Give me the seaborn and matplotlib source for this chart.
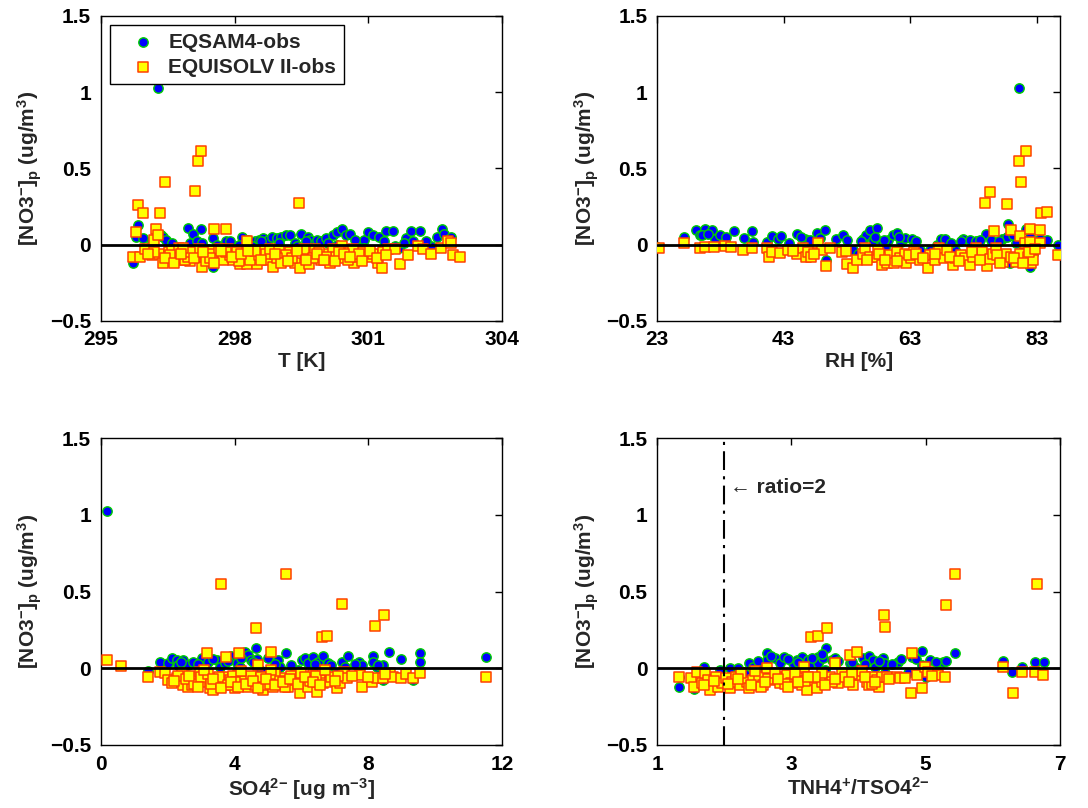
import numpy as np
import pandas as pd
import matplotlib
matplotlib.use("Agg")
import matplotlib.pyplot as plt
import seaborn as sns

# ---------------- data ----------------
# Panel 1: temperature
t_eqsam_x = [295.72, 295.80, 295.84, 295.94, 296.05, 296.15, 296.28, 296.35, 296.40, 296.46, 296.55, 296.70,
             296.85, 296.95, 297.00, 297.08, 297.15, 297.25, 297.27, 297.40, 297.51, 297.52, 297.60, 297.70,
             297.82, 297.90, 298.00, 298.16, 298.25, 298.31, 298.45, 298.55, 298.65, 298.75, 298.85, 298.95,
             299.05, 299.15, 299.25, 299.35, 299.50, 299.65, 299.70, 299.85, 299.95, 300.05, 300.20, 300.30,
             300.40, 300.50, 300.60, 300.75, 300.90, 301.00, 301.10, 301.25, 301.40, 301.55, 301.70, 301.85,
             301.95, 302.00, 302.15, 302.45, 302.55, 302.65, 302.70, 302.85, 296.60, 297.00, 298.40, 298.90,
             299.40, 300.30, 300.90, 301.60, 302.40, 298.10, 298.60, 299.00, 299.60, 300.10, 300.70, 301.35,
             301.80, 302.30, 297.30, 297.90]
t_eqsam_y = [-0.12, 0.05, 0.13, 0.04, -0.02, 0.02, 1.03, 0.06, 0.05, 0.03, -0.03, -0.05,
             -0.06, 0.11, 0.01, 0.07, 0.02, 0.10, 0.01, -0.03, -0.15, 0.04, 0.00, -0.02,
             0.02, 0.02, -0.03, 0.05, 0.01, 0.03, 0.02, 0.03, 0.04, 0.03, 0.05, 0.04,
             0.05, 0.06, 0.06, 0.01, 0.07, 0.05, 0.03, 0.03, 0.02, 0.04, 0.06, 0.08,
             0.10, 0.06, 0.07, 0.01, 0.03, 0.08, 0.06, 0.05, 0.09, 0.09, -0.02, 0.04,
             0.09, 0.02, 0.09, -0.02, 0.05, 0.10, 0.07, 0.05, 0.01, -0.08, -0.01, -0.02,
             -0.01, 0.00, -0.02, -0.01, -0.01, 0.00, 0.02, 0.01, 0.02, 0.01, 0.03, 0.02,
             0.01, 0.02, -0.06, -0.04]
t_equi_x = [295.72, 295.79, 295.84, 295.94, 295.88, 295.99, 296.14, 296.19, 296.25, 296.28, 296.34, 296.31,
            296.40, 296.45, 296.52, 296.63, 296.81, 296.93, 297.00, 297.11, 297.19, 297.25, 297.26, 297.34,
            297.45, 297.54, 297.60, 297.71, 297.80, 297.86, 297.97, 298.12, 298.27, 298.27, 298.42, 298.51,
            298.64, 298.76, 298.87, 298.98, 299.09, 299.24, 299.35, 299.45, 299.48, 299.61, 299.67, 299.80,
            299.95, 300.10, 300.21, 300.28, 300.40, 300.47, 300.58, 300.69, 300.73, 300.88, 301.00, 301.11,
            301.22, 301.30, 301.34, 301.45, 301.60, 301.71, 301.89, 302.12, 302.23, 302.41, 302.64, 302.79,
            302.86, 302.90, 303.05, 296.60, 296.70, 296.75, 296.90, 297.05, 297.20, 297.35, 297.50, 297.65,
            297.75, 297.90, 298.05, 298.20, 298.35, 298.55, 298.70, 298.80, 299.00, 299.15, 299.30, 299.55,
            299.75, 299.90, 300.05, 300.15, 300.35, 300.55, 300.65, 300.80, 296.55, 296.95, 297.80, 298.95,
            299.05, 298.45, 298.10, 297.45, 297.00, 296.85, 296.45, 296.65, 296.80, 297.10, 297.30, 297.55,
            297.70, 297.95, 298.15, 298.30, 298.60, 298.90, 299.20, 299.40, 299.60, 299.85, 300.00, 300.25,
            300.45, 300.60, 300.85, 301.05, 301.20, 301.40, 296.20, 296.05]
t_equi_y = [-0.08, 0.08, 0.26, 0.21, -0.08, -0.03, -0.07, 0.03, 0.10, 0.06, 0.21, -0.06,
            -0.12, 0.41, -0.05, -0.08, -0.10, -0.04, -0.11, 0.35, 0.55, 0.615, -0.146, -0.08,
            -0.04, 0.10, -0.09, -0.06, 0.10, -0.03, -0.10, -0.13, -0.13, 0.02, -0.06, -0.13,
            -0.04, -0.10, -0.146, -0.07, -0.10, -0.05, -0.12, 0.274, -0.156, -0.07, -0.13, -0.03,
            -0.10, -0.06, -0.03, -0.08, -0.01, -0.09, -0.05, -0.12, -0.08, -0.05, -0.08, -0.06,
            -0.12, -0.156, -0.05, -0.03, -0.03, -0.13, -0.07, -0.01, -0.03, -0.06, -0.02, 0.02,
            0.01, -0.07, -0.08, -0.04, -0.09, -0.02, -0.10, -0.06, -0.03, -0.11, -0.06, -0.03,
            -0.10, -0.07, -0.05, -0.08, -0.10, -0.07, -0.06, -0.03, -0.04, -0.07, -0.09, -0.03,
            -0.09, -0.05, -0.08, -0.12, -0.05, -0.10, -0.03, -0.06, -0.07, -0.08, -0.05, -0.09,
            -0.12, -0.04, -0.11, -0.09, -0.05, -0.02, -0.09, -0.12, -0.06, -0.09, -0.05, -0.12,
            -0.04, -0.08, -0.06, -0.04, -0.10, -0.06, -0.11, -0.04, -0.10, -0.06, -0.10, -0.11,
            -0.06, -0.08, -0.11, -0.04, -0.09, -0.07, -0.05, -0.06]

# Panel 2: relative humidity
rh_eqsam_x = [23.0, 27.2, 29.2, 29.7, 30.2, 30.6, 31.6, 32.1, 32.9, 33.9, 35.2, 36.7, 38.0, 38.2, 40.3, 41.2,
              42.1, 42.5, 43.9, 45.1, 46.4, 47.1, 48.2, 48.7, 49.5, 49.7, 51.3, 52.4, 53.0, 54.0, 54.8, 55.6,
              56.0, 56.6, 57.2, 57.8, 58.5, 59.0, 59.5, 60.3, 60.9, 61.6, 62.2, 63.3, 63.7, 64.5, 66.1, 67.2,
              67.9, 68.5, 70.1, 71.4, 72.4, 73.4, 75.0, 75.8, 76.9, 77.5, 78.5, 78.4, 78.8, 80.2, 79.8, 80.9,
              81.4, 81.9, 82.5, 83.5, 84.6, 86.4, 55.2, 57.5, 58.8, 61.2, 64.0, 69.5, 71.0, 74.0, 77.0, 79.2,
              81.0, 82.0, 30.0, 31.0, 45.8]
rh_eqsam_y = [-0.015, 0.05, 0.093, 0.061, 0.072, 0.104, 0.098, 0.033, 0.061, 0.05, 0.087, 0.043, 0.087, 0.017,
              0.017, 0.054, 0.037, 0.054, 0.011, 0.072, 0.039, 0.028, 0.076, 0.046, 0.093, -0.102, 0.039, 0.061,
              0.028, -0.033, -0.063, 0.033, 0.061, 0.093, 0.028, 0.109, 0.011, -0.015, 0.028, 0.061, 0.078,
              0.017, 0.046, 0.039, 0.011, -0.037, -0.037, -0.004, 0.039, 0.039, -0.037, 0.039, 0.028, 0.024,
              0.072, 0.028, -0.08, 0.039, 0.133, 0.05, -0.124, 1.028, 0.007, -0.037, 0.104, -0.146, -0.059,
              0.039, 0.028, -0.004, 0.02, 0.05, 0.03, 0.05, 0.02, 0.01, 0.02, 0.03, 0.02, 0.06,
              0.02, 0.05, 0.06, 0.07, 0.05]
rh_equi_x = [23.3, 27.2, 29.7, 30.5, 31.9, 33.7, 34.7, 36.5, 38.0, 40.4, 40.6, 41.2, 42.4, 43.7, 45.1, 46.1,
             46.5, 46.9, 47.3, 48.4, 49.1, 49.7, 50.4, 52.2, 52.9, 53.0, 53.9, 54.6, 55.6, 55.8, 56.6, 57.8,
             57.9, 58.5, 59.3, 59.8, 60.4, 60.9, 61.4, 62.2, 62.4, 63.2, 63.6, 64.5, 65.9, 66.1, 66.9, 67.6,
             68.4, 68.8, 69.8, 70.1, 71.1, 71.7, 72.4, 73.0, 73.5, 74.3, 74.8, 75.1, 75.6, 75.7, 76.1, 76.2,
             76.6, 77.7, 78.2, 78.4, 79.0, 79.0, 79.8, 80.2, 80.4, 80.5, 80.4, 81.2, 81.3, 81.6, 81.9, 82.0,
             82.1, 82.5, 83.5, 83.7, 84.7, 83.5, 86.4, 56.2, 58.0, 59.0, 61.0, 62.8, 64.0, 65.0, 67.0, 69.3,
             70.8, 72.8, 74.0, 76.8, 77.2, 79.5, 80.8, 81.8, 82.8, 44.5, 47.8]
rh_equi_y = [-0.02, 0.007, -0.02, -0.015, -0.015, -0.009, -0.015, -0.037, -0.02, -0.02, -0.08, -0.048,
             -0.054, -0.033, -0.063, -0.026, -0.08, -0.048, -0.08, 0.007, -0.037, -0.139, -0.02, -0.048,
             -0.041, -0.13, -0.157, -0.102, -0.059, -0.026, -0.085, -0.085, -0.033, -0.135, -0.124, -0.07,
             -0.124, -0.048, -0.091, -0.059, -0.124, -0.091, -0.048, -0.102, -0.157, -0.07, -0.102, -0.026,
             -0.091, -0.037, -0.135, -0.091, -0.07, -0.091, -0.135, -0.08, -0.026, -0.048, 0.274, -0.139,
             -0.098, 0.348, -0.059, 0.089, -0.026, -0.113, -0.059, 0.263, 0.093, -0.08, -0.113, 0.55,
             0.054, 0.413, -0.059, 0.007, 0.615, -0.08, 0.104, 0.017, -0.124, -0.102, 0.098, 0.209,
             0.213, 0.007, -0.07, -0.10, -0.06, -0.10, -0.11, -0.07, -0.06, -0.09, -0.06, -0.08,
             -0.11, -0.05, -0.10, -0.07, -0.12, -0.09, -0.12, -0.05, -0.03, -0.04, -0.06]

# Panel 3: sulfate
so4_eqsam_x = [0.18, 1.42, 1.77, 2.02, 2.12, 2.27, 2.32, 2.47, 2.62, 2.77, 3.02, 3.09, 3.22, 3.47, 3.57, 3.72,
               3.91, 4.06, 4.16, 4.31, 4.41, 4.48, 4.64, 4.66, 4.76, 4.86, 5.01, 5.16, 5.31, 5.36, 5.53, 5.76,
               5.91, 6.01, 6.11, 6.16, 6.21, 6.36, 6.51, 6.66, 6.80, 7.05, 7.20, 7.30, 7.38, 7.73, 7.80, 8.13,
               8.15, 8.25, 8.45, 8.45, 8.62, 8.99, 9.34, 9.56, 9.56, 11.53, 2.40, 2.90, 3.35, 3.80, 4.20, 4.55,
               5.20, 5.70, 6.40, 6.90, 7.60, 8.30]
so4_eqsam_y = [1.028, -0.02, 0.043, 0.033, 0.065, 0.054, 0.022, 0.054, 0.022, 0.043, 0.065, 0.011, 0.043, 0.054,
               0.011, 0.033, 0.08, 0.033, 0.011, 0.109, 0.087, 0.054, 0.13, 0.059, -0.011, -0.022, 0.065,
               -0.054, 0.054, 0.011, 0.098, -0.076, -0.011, 0.054, 0.065, -0.054, 0.033, 0.076, 0.043, 0.08,
               0.033, -0.033, 0.043, 0.011, 0.08, 0.043, 0.022, 0.08, 0.043, 0.011, 0.022, -0.076, 0.109,
               0.059, -0.076, 0.098, 0.043, 0.072, 0.04, 0.03, 0.06, 0.05, 0.07, 0.04,
               0.03, 0.02, 0.03, 0.02, 0.03, 0.02]
so4_equi_x = [0.18, 0.60, 1.42, 1.77, 1.92, 2.02, 2.12, 2.27, 2.42, 2.47, 2.62, 2.72, 2.87, 2.97, 3.17, 3.07,
              3.27, 3.37, 3.47, 3.61, 3.67, 3.72, 3.75, 3.86, 4.01, 4.11, 4.14, 4.16, 4.26, 4.41, 4.46, 4.63,
              4.71, 4.74, 4.86, 4.91, 5.01, 5.08, 5.16, 5.26, 5.43, 5.53, 5.61, 5.81, 5.86, 5.96, 6.06, 6.21,
              6.36, 6.46, 6.56, 6.61, 6.66, 6.78, 6.85, 7.07, 7.15, 7.22, 7.27, 7.37, 7.75, 7.80, 8.10, 8.20,
              8.25, 8.45, 8.47, 8.65, 8.75, 8.99, 9.14, 9.34, 9.56, 11.53, 2.30, 2.55, 2.80, 3.00, 3.20, 3.30,
              3.55, 3.80, 3.95, 4.05, 4.30, 4.50, 4.60, 4.80, 5.05, 5.20, 5.35, 5.50, 5.70, 6.00, 6.25, 6.45,
              6.90, 7.10, 3.10, 4.20, 5.10, 6.70, 2.20, 2.65, 2.90, 3.35, 3.60, 3.90, 4.10, 4.35, 4.55, 4.70,
              4.95, 5.20, 5.45, 5.65, 5.90, 6.10, 6.35, 6.55, 7.00, 7.50, 8.00, 8.50]
so4_equi_y = [0.054, 0.017, -0.054, -0.022, -0.033, -0.076, -0.093, -0.065, -0.033, -0.109, -0.12, -0.109,
              -0.054, -0.022, 0.098, -0.087, -0.13, -0.141, -0.076, 0.55, -0.054, -0.109, 0.076, -0.076,
              -0.13, -0.043, 0.098, -0.098, -0.065, -0.12, -0.076, 0.261, 0.022, -0.087, -0.141, -0.109,
              -0.054, 0.109, -0.12, -0.076, -0.065, 0.613, -0.12, -0.076, -0.043, -0.159, -0.076, -0.124,
              -0.043, -0.152, -0.076, 0.202, -0.098, 0.211, -0.087, -0.13, -0.093, 0.417, -0.022, -0.065,
              -0.043, -0.12, -0.087, 0.276, -0.065, -0.065, 0.348, -0.033, -0.054, -0.065, -0.037, -0.065,
              -0.033, -0.054, -0.05, -0.07, -0.10, -0.06, -0.04, -0.10, -0.06, -0.11, -0.05, -0.09, -0.08,
              -0.05, -0.11, -0.06, -0.10, -0.04, -0.08, -0.12, -0.05, -0.03, -0.08, -0.05, -0.06, -0.05,
              -0.01, -0.02, -0.01, -0.01, -0.08, -0.05, -0.12, -0.07, -0.13, -0.09, -0.12, -0.10, -0.08,
              -0.13, -0.07, -0.11, -0.09, -0.07, -0.10, -0.06, -0.09, -0.11, -0.08, -0.05, -0.06, -0.04]

# Panel 4: TNH4+/TSO4 2- ratio
rat_eqsam_x = [1.33, 1.33, 1.54, 1.69, 1.74, 1.93, 2.08, 2.21, 2.36, 2.42, 2.51, 2.63, 2.63, 2.75, 2.83, 2.89,
               3.03, 3.08, 3.15, 3.18, 3.25, 3.30, 3.39, 3.40, 3.47, 3.52, 3.60, 3.65, 3.77, 3.87, 3.95, 4.07,
               4.15, 4.22, 4.25, 4.37, 4.38, 4.59, 4.63, 4.74, 4.79, 4.94, 4.94, 5.01, 5.06, 5.19, 5.26, 5.44,
               6.15, 6.28, 6.43, 6.63, 6.76, 1.60, 1.85, 2.00, 2.15, 2.30, 2.60, 3.00, 3.50, 4.00, 4.40, 2.50,
               2.70, 2.95, 3.10, 3.30, 3.45, 3.70, 3.90, 4.10, 4.30, 4.50, 4.85, 5.15, 5.30]
rat_eqsam_y = [-0.12, -0.054, -0.137, 0.011, -0.065, -0.011, 0.0, 0.0, 0.033, 0.011, 0.033, 0.098, 0.054,
               0.065, 0.033, 0.076, 0.033, 0.054, 0.076, 0.011, 0.054, 0.033, 0.076, 0.033, 0.065, 0.13,
               0.054, 0.065, -0.043, 0.033, 0.011, 0.065, 0.08, 0.054, 0.011, 0.065, 0.033, 0.043, 0.059,
               -0.033, 0.076, 0.115, 0.022, -0.054, 0.054, 0.033, 0.043, 0.098, 0.048, -0.022, 0.011,
               0.043, 0.043, -0.10, -0.12, -0.09, -0.06, -0.04, -0.02, -0.03, -0.01, -0.02, -0.03, 0.05,
               0.08, 0.06, 0.04, 0.07, 0.09, 0.05, 0.04, 0.03, 0.05, 0.03, 0.06, 0.04, 0.05]
rat_equi_x = [1.33, 1.51, 1.55, 1.59, 1.66, 1.71, 1.76, 1.79, 1.88, 1.91, 1.96, 2.03, 2.08, 2.11, 2.18, 2.23,
              2.33, 2.36, 2.43, 2.51, 2.58, 2.63, 2.70, 2.78, 2.83, 2.93, 3.00, 3.08, 3.15, 3.18, 3.23, 3.29,
              3.30, 3.38, 3.40, 3.45, 3.53, 3.57, 3.65, 3.70, 3.75, 3.87, 3.92, 3.98, 4.02, 4.12, 4.15, 4.20,
              4.27, 4.30, 4.35, 4.38, 4.39, 4.42, 4.57, 4.62, 4.69, 4.78, 4.80, 4.87, 4.94, 4.99, 5.04, 5.19,
              5.29, 5.30, 5.44, 6.15, 6.30, 6.43, 6.63, 6.66, 6.75, 2.45, 2.65, 2.90, 3.05, 3.20, 3.45, 3.60,
              3.80, 4.05, 4.20, 2.25, 2.55, 2.75, 3.35, 3.90, 1.70, 1.85, 2.05, 2.20, 2.40, 2.60, 2.80, 2.95,
              3.10, 3.25, 3.50, 3.65, 3.85, 4.10, 4.25, 4.45, 5.10]
rat_equi_y = [-0.059, -0.065, -0.12, -0.022, -0.098, -0.028, -0.076, -0.141, -0.054, -0.12, -0.093, -0.065,
              -0.13, -0.087, -0.054, -0.109, -0.087, -0.13, -0.076, -0.054, -0.109, 0.0, -0.076, -0.054,
              -0.098, -0.043, -0.098, -0.065, -0.109, 0.011, -0.141, 0.202, -0.076, -0.13, 0.211, -0.087,
              0.261, -0.054, 0.033, -0.098, -0.033, 0.087, -0.109, 0.109, -0.043, -0.087, -0.109, -0.054,
              -0.076, -0.12, -0.054, 0.348, 0.272, -0.054, -0.054, -0.065, -0.065, -0.159, 0.098, -0.043,
              -0.13, 0.011, -0.022, -0.043, -0.054, 0.413, 0.613, 0.011, -0.159, -0.022, -0.022, 0.55,
              -0.043, -0.02, -0.07, -0.10, -0.04, -0.08, -0.03, -0.09, -0.06, -0.02, -0.10, -0.03, -0.12,
              -0.03, -0.06, -0.04, -0.11, -0.08, -0.10, -0.07, -0.11, -0.09, -0.07, -0.12, -0.09, -0.06,
              -0.11, -0.07, -0.09, -0.06, -0.09, -0.07, -0.05]

ratio_line = 2.0
series_names = ["EQSAM4-obs", "EQUISOLV II-obs"]

# ---------------- style ----------------
sns.set_theme(style="white")
plt.rcParams["font.family"] = ["Liberation Sans", "DejaVu Sans"]
plt.rcParams["font.weight"] = "bold"
plt.rcParams["axes.labelweight"] = "bold"
plt.rcParams["mathtext.fontset"] = "custom"
plt.rcParams["mathtext.rm"] = "Liberation Sans:bold"
plt.rcParams["mathtext.bf"] = "Liberation Sans:bold"
plt.rcParams["mathtext.it"] = "Liberation Sans:bold"
plt.rcParams["mathtext.sf"] = "Liberation Sans:bold"
plt.rcParams["mathtext.default"] = "bf"

FS = 15
fig = plt.figure(figsize=(10.88, 8.08), dpi=100)

panels = [
    dict(rect=[0.0926, 0.6031, 0.3688, 0.3771], xe=t_eqsam_x, ye=t_eqsam_y, xq=t_equi_x, yq=t_equi_y,
         xlim=(295, 304), xticks=[295, 298, 301, 304], xlabel="T [K]"),
    dict(rect=[0.6041, 0.6031, 0.3701, 0.3771], xe=rh_eqsam_x, ye=rh_eqsam_y, xq=rh_equi_x, yq=rh_equi_y,
         xlim=(23, 86.7), xticks=[23, 43, 63, 83], xlabel="RH [%]"),
    dict(rect=[0.0926, 0.0780, 0.3688, 0.3796], xe=so4_eqsam_x, ye=so4_eqsam_y, xq=so4_equi_x, yq=so4_equi_y,
         xlim=(0, 12), xticks=[0, 4, 8, 12], xlabel=r"SO4$^{2{-}}$ [ug m$^{-3}$]"),
    dict(rect=[0.6041, 0.0780, 0.3701, 0.3796], xe=rat_eqsam_x, ye=rat_eqsam_y, xq=rat_equi_x, yq=rat_equi_y,
         xlim=(1, 7), xticks=[1, 3, 5, 7], xlabel=r"TNH4$^{+}$/TSO4$^{2{-}}$"),
]

for i, p in enumerate(panels):
    ax = fig.add_axes(p["rect"])
    d1 = pd.DataFrame({"x": p["xe"], "y": p["ye"]})
    d2 = pd.DataFrame({"x": p["xq"], "y": p["yq"]})
    sns.scatterplot(data=d1, x="x", y="y", ax=ax, marker="o", s=46, color="#0000ff",
                    edgecolor="#00d000", linewidth=1.0, label=series_names[0], zorder=3)
    sns.scatterplot(data=d2, x="x", y="y", ax=ax, marker="s", s=42, color="#ffff00",
                    edgecolor="#ff4000", linewidth=1.1, label=series_names[1], zorder=4)
    ax.axhline(0, color="black", lw=2.0, zorder=5)
    ax.set_xlim(*p["xlim"])
    ax.set_ylim(-0.5, 1.5)
    ax.set_xticks(p["xticks"])
    ax.set_xticklabels([str(v) for v in p["xticks"]])
    ax.set_yticks([-0.5, 0, 0.5, 1, 1.5])
    ax.set_yticklabels(["\u22120.5", "0", "0.5", "1", "1.5"])
    ax.tick_params(direction="in", length=5, width=1, top=True, right=True, labelsize=FS,
                   colors="black", pad=7)
    for lab in ax.get_xticklabels() + ax.get_yticklabels():
        lab.set_fontweight("bold")
    for sp in ax.spines.values():
        sp.set_color("black")
        sp.set_linewidth(1.0)
    ax.set_xlabel(p["xlabel"], fontsize=FS, fontweight="bold", labelpad=2)
    ax.set_ylabel(r"[NO3$^{-}$]$_{p}$ (ug/m$^{3}$)", fontsize=FS, fontweight="bold", labelpad=4)
    if i == 0:
        leg = ax.legend(loc="upper left", fontsize=FS, frameon=True, fancybox=False, edgecolor="black",
                        framealpha=1, borderaxespad=0.45, labelspacing=0.3, handletextpad=0.0,
                        borderpad=0.35, handlelength=2.45)
        leg.get_frame().set_linewidth(1.0)
        for t in leg.get_texts():
            t.set_fontweight("bold")
    else:
        lg = ax.get_legend()
        if lg is not None:
            lg.remove()
    if i == 3:
        ax.axvline(ratio_line, color="black", lw=1.5, linestyle=(0, (9, 3, 1.5, 3)), zorder=6)
        ax.text(ratio_line + 0.08, 1.18, "\u2190 ratio=2", fontsize=FS, fontweight="bold",
                ha="left", va="center", family=["Liberation Sans", "DejaVu Sans"])

fig.savefig("out.png", dpi=100)
